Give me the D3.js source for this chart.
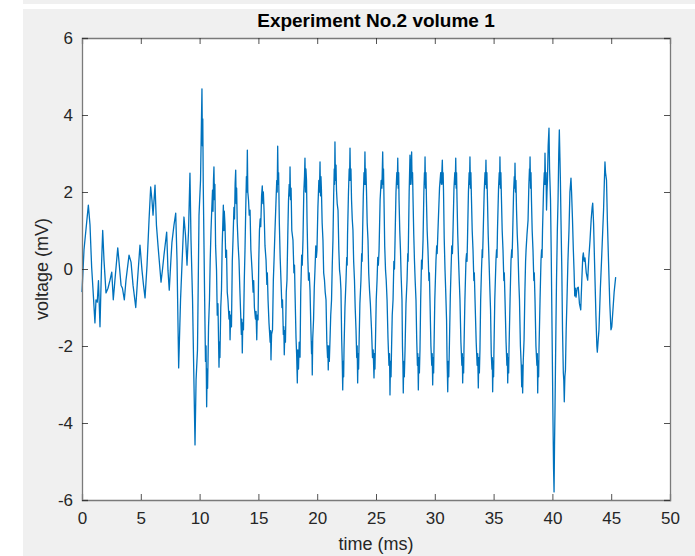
<!DOCTYPE html>
<html>
<head>
<meta charset="utf-8">
<script src="https://cdn.jsdelivr.net/npm/d3@7"></script>
<style>
  body { margin: 0; background: #fff; }
  text { font-family: "Liberation Sans", Arial, sans-serif; }
</style>
</head>
<body>
<div id="plot"></div>
<script>
// [time (ms), voltage (mV)]
var signal = [
  [0,-0.6],[0.17,0.5],[0.54,1.66],[0.68,1.15],[0.82,0.05],[0.94,-0.55],[1.1,-1.4],[1.19,-0.8],[1.3,-0.86],[1.4,-0.3],
  [1.53,-1.5],[1.66,0.1],[1.76,1.0],[1.87,0.23],[2.04,-0.62],[2.21,-0.5],[2.38,-0.29],[2.53,-0.08],[2.66,-0.8],[2.8,-0.29],
  [3.04,0.55],[3.15,0.18],[3.32,-0.42],[3.44,-0.5],[3.6,-0.8],[3.74,-0.29],[4.0,0.36],[4.17,0.18],[4.34,-0.42],[4.57,-1.0],
  [4.72,-0.29],[4.93,0.62],[5.1,-0.03],[5.23,-0.42],[5.36,-0.75],[5.53,0.1],[5.7,1.27],[5.84,2.13],[5.95,1.79],[6.04,1.4],
  [6.21,2.18],[6.33,1.14],[6.46,0.62],[6.72,-0.34],[6.85,0],[6.97,0.36],[7.2,0.96],[7.31,-0.03],[7.42,-0.55],[7.57,0.29],
  [7.65,0.7],[7.82,1.14],[7.97,1.45],[8.08,0.23],[8.22,-2.57],[8.38,-0.8],[8.5,0.1],[8.67,1.35],[8.8,0.88],[8.93,0.1],
  [9.06,1.0],[9.18,2.49],[9.27,0.75],[9.4,-0.8],[9.61,-4.57],[9.7,-2.88],[9.82,-2.1],[9.95,1.4],[10.08,2.31],
  [10.2,4.68],[10.24,3.2],[10.27,3.9],[10.31,2.2],[10.42,-0.55],[10.5,-2.4],[10.55,-2.0],[10.6,-3.58],[10.64,-2.6],[10.68,-3.1],
  [10.76,-1.5],[10.84,-0.8],[10.9,0.2],[10.97,1.0],[11.04,1.6],[11.1,2.05],[11.14,1.5],[11.18,2.3],[11.22,2.65],[11.26,1.8],
  [11.3,2.2],[11.36,0.6],[11.44,-0.03],[11.5,-1.2],[11.56,-0.9],[11.65,-2.55],[11.69,-1.9],[11.73,-2.3],[11.8,-1.0],[11.86,-0.55],
  [11.92,0.6],[12.02,1.66],[12.06,1.0],[12.1,1.5],[12.16,1.14],[12.22,0.3],[12.29,0.49],[12.35,-0.6],[12.41,-0.8],[12.5,-1.3],
  [12.55,-1.1],[12.59,-1.84],[12.64,-1.2],[12.71,-1.5],[12.78,0.2],[12.84,0.75],[12.92,1.6],[12.97,1.3],[13.02,2.2],[13.07,2.57],
  [13.11,1.7],[13.15,2.1],[13.2,1.2],[13.28,0.6],[13.35,0.23],[13.42,-0.5],[13.48,-1.06],[13.55,-1.7],[13.59,-1.3],[13.63,-2.18],
  [13.67,-1.4],[13.73,-1.58],[13.8,-0.3],[13.86,0.49],[13.92,1.5],[13.98,2.4],[14.02,2.0],[14.06,3.09],[14.1,2.0],[14.16,1.79],
  [14.22,1.4],[14.29,1.53],[14.36,0.5],[14.46,-0.03],[14.55,-0.6],[14.6,-0.3],[14.66,-1.0],[14.75,-1.3],[14.8,-1.1],[14.86,-1.84],
  [14.9,-1.2],[14.97,-1.32],[15.03,0.2],[15.09,1.01],[15.15,1.3],[15.2,1.1],[15.27,1.9],[15.33,2.16],[15.38,1.7],[15.42,2.0],
  [15.48,1.53],[15.56,0.6],[15.65,0.23],[15.72,-0.4],[15.76,-0.1],[15.82,-0.8],[15.9,-1.4],[16.0,-1.9],[16.04,-1.6],[16.07,-2.36],
  [16.12,-1.7],[16.2,-1.58],[16.27,-0.3],[16.33,0.23],[16.4,0.9],[16.5,1.79],[16.56,2.3],[16.6,2.0],[16.64,3.19],[16.68,2.2],
  [16.72,2.5],[16.78,1.2],[16.85,0.3],[16.92,-0.29],[17.0,-1.0],[17.05,-0.8],[17.12,-1.7],[17.16,-1.5],[17.2,-2.23],[17.25,-1.6],
  [17.3,-1.9],[17.37,-0.6],[17.43,-0.29],[17.5,0.9],[17.56,1.79],[17.62,2.2],[17.66,1.9],[17.69,2.65],[17.73,1.8],[17.78,2.1],
  [17.84,1.0],[17.94,0.75],[18.02,-0.1],[18.07,0.1],[18.11,-0.55],[18.2,-1.8],[18.25,-2.2],[18.31,-2.96],[18.35,-2.1],[18.41,-2.6],
  [18.47,-1.9],[18.54,-2.29],[18.6,-0.6],[18.68,0.36],[18.73,0.1],[18.79,0.75],[18.86,2.0],[18.92,2.4],[18.96,2.88],[19.0,2.0],
  [19.04,2.6],[19.09,2.31],[19.14,1.2],[19.2,0.3],[19.26,-0.29],[19.32,-0.1],[19.39,-0.55],[19.46,-1.5],[19.52,-2.2],[19.55,-1.9],
  [19.58,-2.75],[19.62,-1.8],[19.69,-1.32],[19.75,-0.5],[19.81,-0.03],[19.88,0.6],[19.93,0.3],[19.98,0.49],[20.06,1.6],[20.14,2.3],
  [20.19,2.0],[20.24,2.78],[20.28,1.9],[20.32,2.4],[20.36,2.05],[20.42,1.2],[20.49,0.75],[20.55,-0.1],[20.62,-0.29],[20.68,-0.6],
  [20.75,-0.8],[20.82,-1.9],[20.88,-2.3],[20.91,-2.0],[20.94,-2.62],[20.98,-2.0],[21.03,-2.4],[21.09,-1.84],[21.15,-1.2],[21.22,-0.8],
  [21.28,0.1],[21.34,0.75],[21.4,1.9],[21.45,2.6],[21.48,2.2],[21.51,3.3],[21.55,2.3],[21.6,2.7],[21.64,2.05],[21.7,1.7],
  [21.77,1.53],[21.84,0.5],[21.9,-0.03],[21.96,-0.2],[22.02,-0.55],[22.08,-1.8],[22.13,-2.4],[22.17,-3.14],[22.21,-2.4],[22.25,-2.8],
  [22.28,-2.1],[22.36,-1.0],[22.45,-0.29],[22.51,0.3],[22.55,0.1],[22.58,0.88],[22.66,2.0],[22.72,2.6],[22.75,2.3],[22.79,3.14],
  [22.83,2.3],[22.87,2.6],[22.92,1.79],[22.98,1.3],[23.04,1.01],[23.1,0.2],[23.17,-0.29],[23.23,-1.0],[23.3,-1.58],[23.36,-2.3],
  [23.4,-2.0],[23.44,-2.96],[23.48,-2.2],[23.52,-2.6],[23.55,-2.1],[23.63,-0.9],[23.72,-0.29],[23.78,0.4],[23.82,0.2],[23.85,0.75],
  [23.92,1.9],[23.98,2.5],[24.02,2.2],[24.06,3.04],[24.1,2.2],[24.14,2.6],[24.19,2.05],[24.25,1.2],[24.32,0.75],[24.38,-0.1],
  [24.45,-0.55],[24.52,-0.9],[24.62,-1.58],[24.7,-2.3],[24.76,-2.1],[24.83,-2.83],[24.87,-2.2],[24.91,-2.6],[24.95,-1.97],[25.02,-0.8],
  [25.09,-0.29],[25.15,0.3],[25.2,0.1],[25.26,0.49],[25.35,1.8],[25.44,2.3],[25.5,2.1],[25.57,3.04],[25.61,2.2],[25.64,2.6],
  [25.68,1.79],[25.74,0.6],[25.81,-0.03],[25.87,-0.3],[25.94,-0.8],[26.02,-1.8],[26.1,-2.5],[26.15,-2.2],[26.19,-3.27],[26.23,-2.4],
  [26.28,-2.8],[26.32,-2.1],[26.38,-1.2],[26.45,-0.8],[26.52,0.2],[26.57,0.0],[26.62,0.75],[26.7,2.0],[26.77,2.5],[26.81,2.2],
  [26.85,2.88],[26.89,2.1],[26.93,2.5],[26.96,1.79],[27.02,1.0],[27.08,0.49],[27.14,-0.2],[27.21,-0.8],[27.25,-2.0],[27.29,-2.5],
  [27.32,-3.22],[27.36,-2.4],[27.41,-2.8],[27.47,-2.1],[27.55,-0.9],[27.64,-0.29],[27.7,0.4],[27.73,0.2],[27.76,0.75],[27.82,2.0],
  [27.89,2.96],[27.93,2.2],[27.98,2.6],[28.03,3.04],[28.07,2.2],[28.11,2.5],[28.15,1.79],[28.21,0.9],[28.27,0.23],[28.33,-0.3],
  [28.4,-0.8],[28.46,-1.8],[28.52,-2.5],[28.56,-2.2],[28.6,-3.14],[28.64,-2.3],[28.69,-2.7],[28.74,-2.1],[28.8,-0.8],[28.87,0.23],
  [28.92,0.0],[29.0,0.75],[29.07,2.0],[29.12,2.5],[29.14,2.2],[29.17,2.91],[29.21,2.1],[29.25,2.5],[29.29,1.79],[29.35,1.0],
  [29.42,0.49],[29.5,-0.3],[29.54,-0.1],[29.59,-0.8],[29.67,-2.0],[29.74,-2.5],[29.78,-2.2],[29.82,-3.01],[29.86,-2.3],[29.9,-2.7],
  [29.93,-2.1],[30.0,-0.8],[30.1,0.23],[30.16,0.6],[30.2,0.4],[30.27,1.01],[30.4,2.1],[30.5,2.5],[30.56,2.2],[30.64,2.83],
  [30.68,2.2],[30.71,2.5],[30.74,2.05],[30.8,0.8],[30.87,-0.03],[30.93,-0.6],[31.0,-1.32],[31.04,-2.3],[31.07,-2.7],[31.1,-3.19],
  [31.14,-2.4],[31.19,-2.8],[31.25,-1.84],[31.32,-0.7],[31.38,-0.03],[31.44,0.6],[31.5,0.4],[31.55,1.01],[31.63,2.1],[31.7,2.5],
  [31.74,2.2],[31.78,2.88],[31.82,2.1],[31.85,2.5],[31.89,1.79],[31.95,0.9],[32.02,0.23],[32.08,-0.3],[32.14,-0.8],[32.22,-1.9],
  [32.3,-2.5],[32.34,-2.2],[32.37,-2.96],[32.41,-2.3],[32.45,-2.7],[32.48,-2.1],[32.56,-0.8],[32.65,0.23],[32.7,0.4],[32.74,0.2],
  [32.78,0.75],[32.86,2.0],[32.92,2.5],[32.95,2.2],[32.99,2.91],[33.03,2.1],[33.07,2.5],[33.12,1.79],[33.18,1.0],[33.25,0.49],
  [33.32,-0.3],[33.36,-0.1],[33.42,-0.8],[33.52,-1.9],[33.6,-2.5],[33.65,-2.2],[33.7,-3.09],[33.74,-2.3],[33.79,-2.7],[33.84,-2.1],
  [33.9,-0.8],[33.97,-0.03],[34.03,0.5],[34.06,0.3],[34.1,0.75],[34.2,2.0],[34.27,2.5],[34.31,2.2],[34.35,2.83],[34.39,2.1],
  [34.43,2.5],[34.48,1.79],[34.54,0.9],[34.61,0.23],[34.67,-0.4],[34.74,-1.06],[34.8,-2.2],[34.86,-2.6],[34.89,-2.3],[34.92,-3.19],
  [34.96,-2.4],[35.0,-2.8],[35.03,-2.1],[35.1,-0.8],[35.2,0.23],[35.25,0.5],[35.29,0.3],[35.33,1.01],[35.42,2.1],[35.48,2.5],
  [35.51,2.2],[35.54,2.91],[35.58,2.1],[35.62,2.5],[35.67,1.79],[35.73,1.0],[35.8,0.49],[35.87,-0.3],[35.91,-0.1],[35.97,-0.8],
  [36.06,-1.9],[36.13,-2.5],[36.17,-2.2],[36.2,-2.96],[36.24,-2.3],[36.28,-2.7],[36.31,-2.1],[36.4,-0.8],[36.48,0.23],[36.54,0.5],
  [36.57,0.3],[36.61,0.75],[36.7,2.0],[36.76,2.4],[36.79,2.1],[36.82,2.75],[36.86,2.0],[36.9,2.3],[36.95,1.53],[37.01,0.9],
  [37.07,0.49],[37.14,-0.3],[37.2,-0.8],[37.28,-2.0],[37.35,-2.5],[37.39,-3.06],[37.43,-2.5],[37.47,-3.22],[37.52,-2.4],[37.59,-1.84],
  [37.66,-0.6],[37.72,0.2],[37.76,0.49],[37.84,0.9],[37.93,1.27],[38.0,2.2],[38.05,2.6],[38.07,2.3],[38.1,2.91],[38.14,2.1],
  [38.18,2.5],[38.22,1.79],[38.28,1.0],[38.35,0.49],[38.42,-0.3],[38.46,-0.1],[38.52,-0.8],[38.6,-2.0],[38.68,-2.5],[38.72,-2.2],
  [38.75,-3.22],[38.79,-2.4],[38.83,-2.8],[38.86,-2.1],[38.95,-0.8],[39.03,0.23],[39.08,0.5],[39.12,0.3],[39.16,1.01],[39.25,2.1],
  [39.31,2.5],[39.34,2.2],[39.37,3.01],[39.42,2.2],[39.46,2.5],[39.5,1.53],[39.54,2.0],[39.58,2.31],[39.64,3.2],[39.71,3.66],
  [39.76,2.6],[39.84,1.79],[39.9,0.4],[39.97,-1.58],[40.05,-3.92],[40.1,-5.2],[40.14,-5.79],[40.18,-4.6],[40.22,-3.66],[40.3,-1.5],
  [40.35,-0.29],[40.42,1.0],[40.48,1.79],[40.54,3.0],[40.59,3.61],[40.64,2.9],[40.68,2.3],[40.73,1.27],[40.8,0.0],[40.86,-1.58],
  [40.93,-2.7],[40.97,-2.9],[41.01,-3.45],[41.06,-2.8],[41.11,-2.62],[41.17,-1.6],[41.24,-0.8],[41.32,0.2],[41.41,1.01],[41.49,2.0],
  [41.54,2.2],[41.58,2.36],[41.63,2.0],[41.71,1.27],[41.78,0.5],[41.84,-0.03],[41.9,-0.7],[41.95,-0.5],[42.01,-0.73],[42.1,-0.5],
  [42.2,-0.47],[42.3,-0.9],[42.41,-1.06],[42.5,-0.3],[42.58,0.3],[42.63,0.42],[42.7,0.2],[42.77,0.29],[42.88,-0.1],[43.0,-0.29],
  [43.1,0.3],[43.2,0.75],[43.3,1.3],[43.38,1.6],[43.43,1.71],[43.5,1.2],[43.58,0.23],[43.7,-1.2],[43.78,-2.0],[43.82,-2.16],
  [43.88,-1.9],[43.96,-1.58],[44.08,-0.5],[44.18,0.23],[44.28,1.0],[44.35,1.53],[44.42,2.3],[44.47,2.78],[44.52,2.5],[44.6,2.31],
  [44.68,1.2],[44.77,0.23],[44.88,-0.9],[44.98,-1.58],[45.05,-1.5],[45.15,-1.06],[45.25,-0.6],[45.38,-0.21]
];

var xTicks = [0, 5, 10, 15, 20, 25, 30, 35, 40, 45, 50];
var yTicks = [-6, -4, -2, 0, 2, 4, 6];

var W = 695, H = 556;
var margin = {top: 38, right: 25, bottom: 56, left: 82};
var width = W - margin.left - margin.right,
    height = H - margin.top - margin.bottom;

var svg = d3.select("#plot").append("svg")
  .attr("width", W)
  .attr("height", H);

// figure background (grey window, white strip at the top/left edge)
svg.append("rect").attr("x", 23).attr("y", 9).attr("width", W - 23).attr("height", H - 9).attr("fill", "#f0f0f0");
svg.append("rect").attr("x", 23).attr("y", 0).attr("width", W - 23).attr("height", 4).attr("fill", "#f0f0f0");

var g = svg.append("g")
  .attr("transform", "translate(" + margin.left + "," + margin.top + ")");

var xScale = d3.scaleLinear().domain([0, 50]).range([0, width]);
var yScale = d3.scaleLinear().domain([-6, 6]).range([height, 0]);

g.append("rect").attr("width", width).attr("height", height).attr("fill", "#fff");

var line = d3.line()
  .x(function (d) { return xScale(d[0]); })
  .y(function (d) { return yScale(d[1]); });

g.append("path")
  .datum(signal)
  .attr("d", line)
  .attr("fill", "none")
  .attr("stroke", "#0072bd")
  .attr("stroke-width", 1.3)
  .attr("stroke-linejoin", "round");

// axes, MATLAB style: ticks inside, box all round
var plain = function (d) { return String(d); };

var xAxis = g.append("g")
  .attr("transform", "translate(0," + height + ")")
  .call(d3.axisBottom(xScale).tickValues(xTicks).tickSize(-6).tickPadding(12).tickFormat(plain));
var xTop = g.append("g")
  .call(d3.axisTop(xScale).tickValues(xTicks).tickSize(-6).tickFormat(""));
var yAxis = g.append("g")
  .call(d3.axisLeft(yScale).tickValues(yTicks).tickSize(-6).tickPadding(9).tickFormat(plain));
var yRight = g.append("g")
  .attr("transform", "translate(" + width + ",0)")
  .call(d3.axisRight(yScale).tickValues(yTicks).tickSize(-6).tickFormat(""));

[xAxis, xTop, yAxis, yRight].forEach(function (a) {
  a.select(".domain").attr("stroke", "#7a7a7a").attr("stroke-width", 1.3);
  a.selectAll(".tick line").attr("stroke", "#262626").attr("stroke-width", 0.8);
  a.selectAll(".tick text").attr("fill", "#262626").style("font-size", "17px");
});

// labels
svg.append("text")
  .attr("x", margin.left + width / 2)
  .attr("y", 27)
  .attr("text-anchor", "middle")
  .style("font-size", "19px")
  .style("font-weight", "bold")
  .attr("fill", "#000")
  .text("Experiment No.2 volume 1");

svg.append("text")
  .attr("x", margin.left + width / 2)
  .attr("y", 550)
  .attr("text-anchor", "middle")
  .style("font-size", "18px")
  .attr("fill", "#262626")
  .text("time (ms)");

svg.append("text")
  .attr("transform", "translate(48," + (margin.top + height / 2) + ") rotate(-90)")
  .attr("text-anchor", "middle")
  .style("font-size", "18px")
  .attr("fill", "#262626")
  .text("voltage (mV)");
</script>
</body>
</html>
